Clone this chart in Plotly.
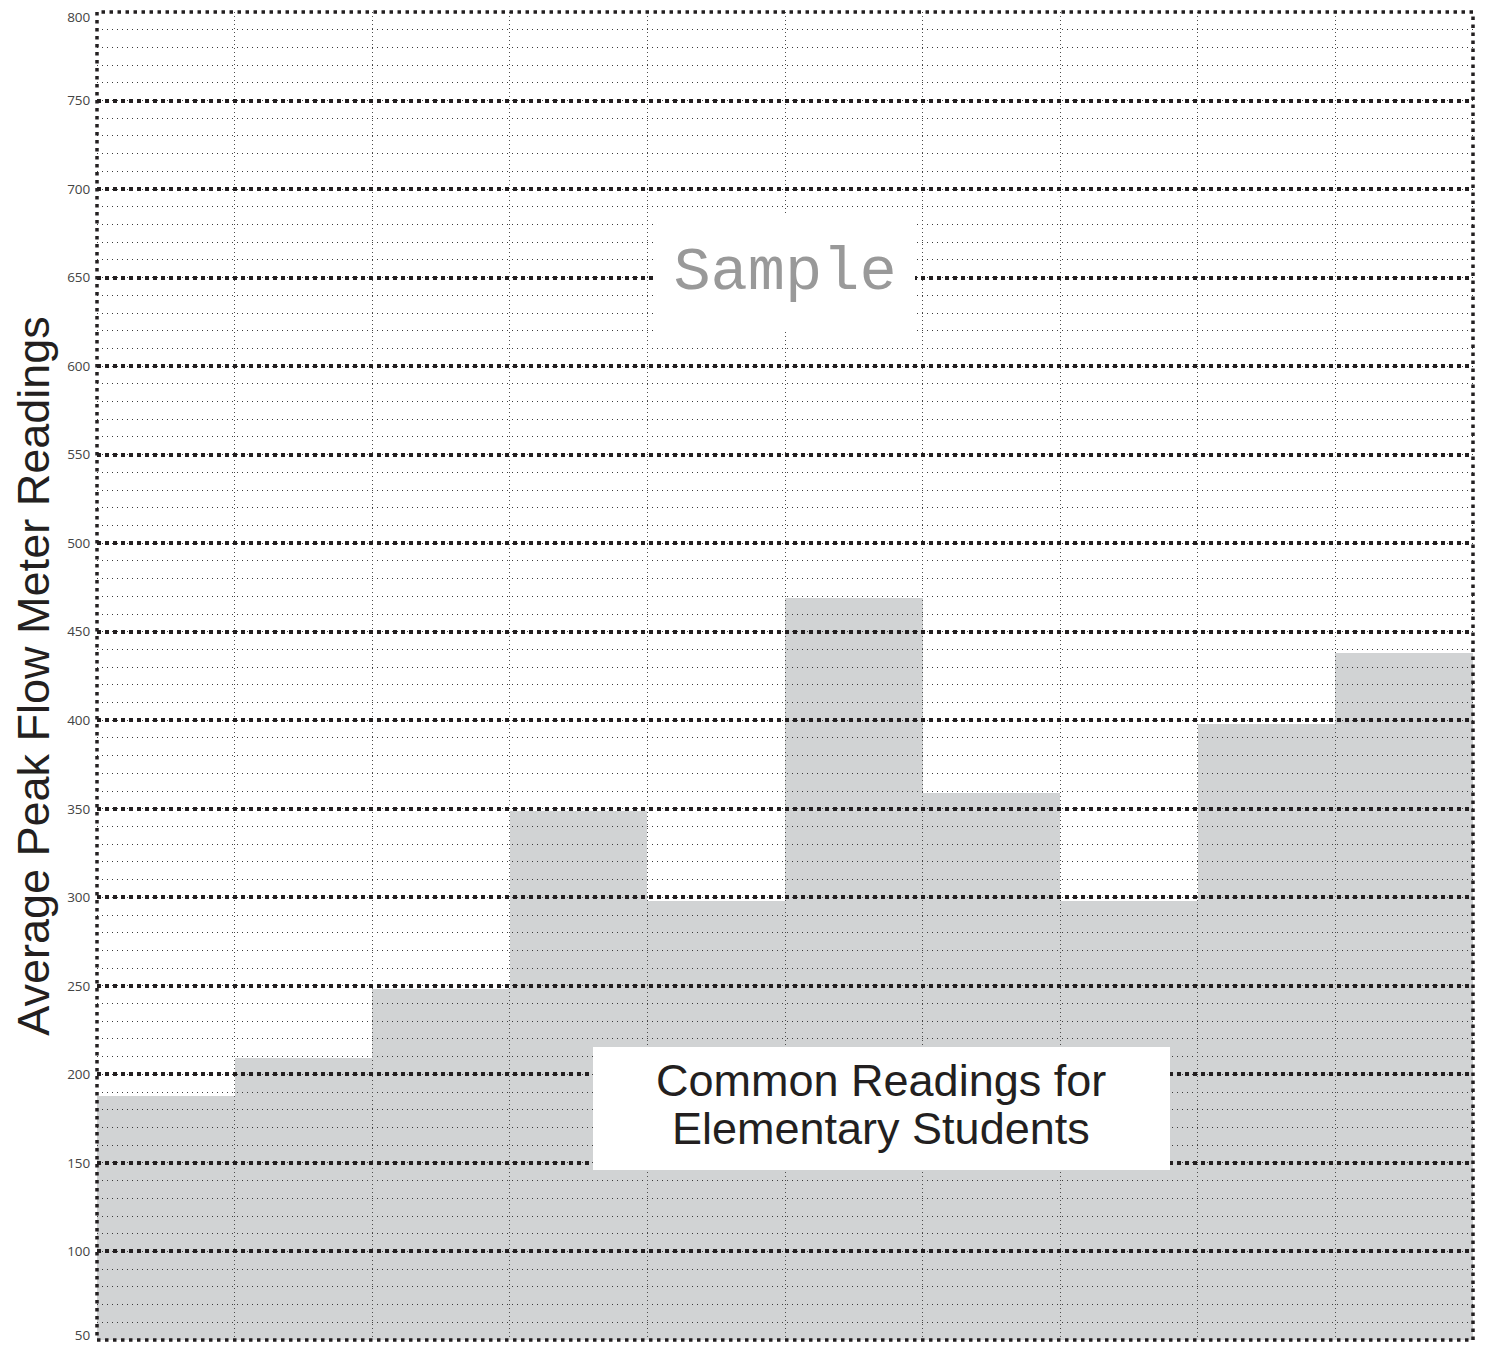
import plotly.graph_objects as go

# one column per student group, no labels are printed on the x axis
columns = [f"Group {i}" for i in range(1, 11)]
readings = [188, 209, 248, 349, 298, 469, 359, 298, 398, 438]
y_min, y_max = 50, 800
y_ticks = list(range(100, 751, 50))
y_title = "Average Peak Flow Meter Readings"
watermark = "Sample"
caption_lines = ["Common Readings for", "Elementary Students"]

INK = "#231f20"
BAR_GRAY = "#d1d3d4"
SANS = "Liberation Sans, Arial, sans-serif"
MONO = "Liberation Mono, Courier New, monospace"
TICK_FONT = dict(family="Open Sans, sans-serif", size=13.5, color="#444444")

fig = go.Figure()

# bars live on the first subplot ...
fig.add_trace(
    go.Bar(
        x=columns,
        y=readings,
        marker=dict(color=BAR_GRAY, line=dict(width=0)),
        xaxis="x",
        yaxis="y",
        showlegend=False,
        hovertemplate="%{y}<extra></extra>",
    )
)
# ... and the dotted grid sits on a second subplot drawn on top of them
fig.add_trace(
    go.Scatter(x=[None], y=[None], xaxis="x2", yaxis="y2",
               showlegend=False, hoverinfo="skip")
)
fig.add_trace(
    go.Scatter(x=[None], y=[None], xaxis="x2", yaxis="y3",
               showlegend=False, hoverinfo="skip")
)

# edge labels (50 and 800) are nudged inward so they stay on the canvas
edge_axis = dict(
    automargin=False, range=[y_min, y_max], tickmode="array",
    showgrid=False, zeroline=False, ticklabeloverflow="allow",
    ticks="outside", ticklen=3, tickcolor="rgba(0,0,0,0)", tickfont=TICK_FONT,
)

# the page body adds 8px around the figure, so size it to fit the window
fig.update_layout(
    width=1469,
    height=1337,
    margin=dict(l=89, r=4, t=4, b=5),
    paper_bgcolor="white",
    plot_bgcolor="rgba(0,0,0,0)",
    bargap=0,
    xaxis=dict(
        domain=[0, 1], type="category", range=[-0.5, 9.5], automargin=False,
        showgrid=False, showticklabels=False, zeroline=False, ticks="",
    ),
    yaxis=dict(edge_axis, domain=[0, 1], tickvals=[y_min], ticklabelshift=-5),
    yaxis3=dict(edge_axis, overlaying="y2", anchor="x2", tickvals=[y_max],
                ticklabelshift=5),
    xaxis2=dict(
        domain=[0, 1], anchor="y2", range=[0, 10], tick0=0, dtick=1,
        automargin=False,
        showgrid=True, gridcolor="#4d4d4d", gridwidth=1, griddash="1px,3px",
        showticklabels=False, zeroline=False, ticks="",
    ),
    yaxis2=dict(
        domain=[0, 1], anchor="x2", range=[y_min, y_max], automargin=False,
        tickmode="array", tickvals=y_ticks,
        showgrid=True, gridcolor=INK, gridwidth=3.5, griddash="3.5px,4.5px",
        minor=dict(tick0=0, dtick=10, showgrid=True, gridcolor="#3a3a3a",
                   gridwidth=1, griddash="1px,4px"),
        zeroline=False,
        ticks="outside", ticklen=3, tickcolor="rgba(0,0,0,0)",
        ticklabeloverflow="allow", tickfont=TICK_FONT,
        title=dict(text=y_title, font=dict(family=SANS, size=45, color=INK),
                   standoff=3),
    ),
    shapes=[
        dict(type="rect", xref="paper", yref="paper", x0=0, x1=1, y0=0, y1=1,
             line=dict(color=INK, width=3.5, dash="3.5px,4.5px"), layer="above"),
    ],
    annotations=[
        dict(x=5.0, y=653, xref="x2", yref="y2", text=watermark, showarrow=False,
             font=dict(family=MONO, size=62, color="#999999"),
             bgcolor="white", borderwidth=0, borderpad=0, width=260, height=118),
        dict(x=5.7, y=180.8, xref="x2", yref="y2", text=" ", showarrow=False,
             bgcolor="white", borderwidth=0, borderpad=0, width=577, height=123),
        dict(x=5.7, y=196.3, xref="x2", yref="y2", text=caption_lines[0],
             showarrow=False, font=dict(family=SANS, size=45, color=INK)),
        dict(x=5.7, y=169.7, xref="x2", yref="y2", text=caption_lines[1],
             showarrow=False, font=dict(family=SANS, size=45, color=INK)),
    ],
)

fig.write_html("out.html")
